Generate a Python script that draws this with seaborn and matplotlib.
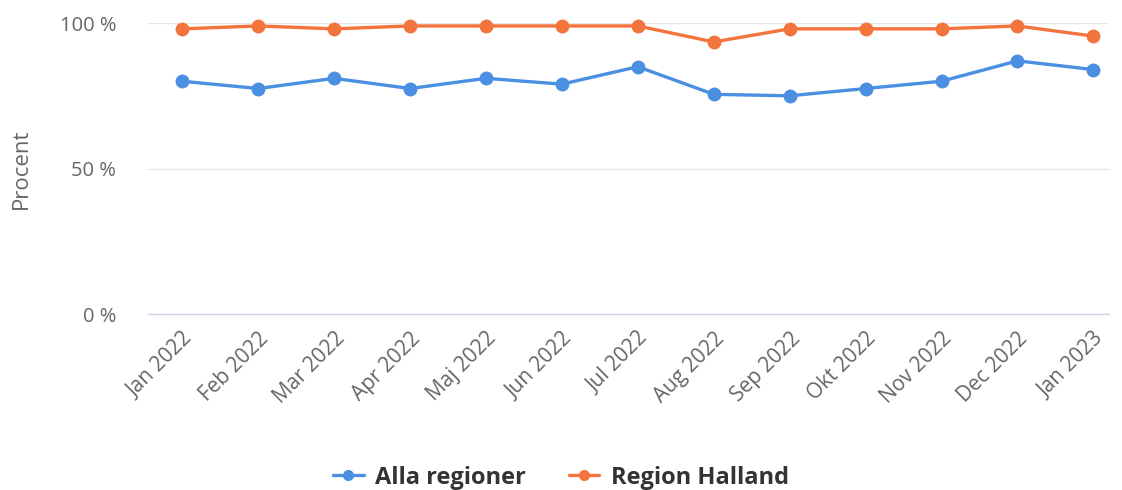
import pandas as pd
import matplotlib.pyplot as plt
import seaborn as sns

# Values
months = ['Jan 2022', 'Feb 2022', 'Mar 2022', 'Apr 2022', 'Maj 2022', 'Jun 2022', 'Jul 2022',
          'Aug 2022', 'Sep 2022', 'Okt 2022', 'Nov 2022', 'Dec 2022', 'Jan 2023']
alla_regioner = [80, 77.5, 81, 77.5, 81, 79, 85, 75.5, 75, 77.5, 80, 87, 84]
region_halland = [98, 99, 98, 99, 99, 99, 99, 93.5, 98, 98, 98, 99, 95.5]
series_names = ['Alla regioner', 'Region Halland']
colors = ['#4a8fe2', '#f4743e']

df = pd.DataFrame({
    'Månad': months * 2,
    'Procent': alla_regioner + region_halland,
    'Serie': [series_names[0]] * len(months) + [series_names[1]] * len(months),
})

sns.set_style('white')
plt.rcParams['font.family'] = ['Open Sans', 'DejaVu Sans']

fig = plt.figure(figsize=(11.22, 4.9), dpi=100)
ax = fig.add_axes([0.132, 0.359, 0.856, 0.594])

sns.lineplot(data=df, x='Månad', y='Procent', hue='Serie', palette=colors,
             marker='o', markersize=10, markeredgewidth=0, linewidth=2.4,
             sort=False, ax=ax, clip_on=False, zorder=3)

ax.set_ylim(0, 100)
ax.set_xlim(-0.45, 12.2)
ax.set_yticks([0, 50, 100])
ax.set_yticklabels(['0 %', '50 %', '100 %'])
ax.grid(axis='y', color='#e6e6e6', linewidth=1)
ax.set_axisbelow(True)
for s in ['top', 'right', 'left']:
    ax.spines[s].set_visible(False)
ax.spines['bottom'].set_color('#ccd6eb')
ax.spines['bottom'].set_linewidth(1)

ax.tick_params(axis='y', length=0, pad=23, labelsize=14.5, labelcolor='#666666')
ax.tick_params(axis='x', length=0, pad=10, labelsize=15, labelcolor='#666666')
plt.setp(ax.get_xticklabels(), rotation=45, ha='right', rotation_mode='anchor')

ax.set_xlabel('')
ax.set_ylabel('Procent', fontsize=16, color='#666666', labelpad=20)

handles, labels = ax.get_legend_handles_labels()
for h in handles:
    h.set_markersize(8)
ax.legend(handles, labels, loc='center', bbox_to_anchor=(0.5, 0.025),
          bbox_transform=fig.transFigure, ncol=2, frameon=False,
          prop={'weight': 'bold', 'size': 17}, labelcolor='#333333',
          handlelength=1.3, columnspacing=1.8, handletextpad=0.5)

plt.savefig('out.png', dpi=100)
plt.close()
